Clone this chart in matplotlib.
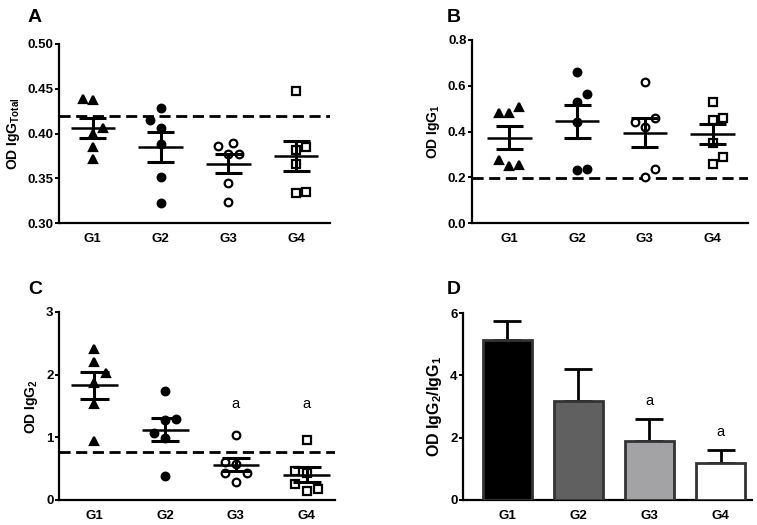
import numpy as np
import matplotlib
matplotlib.use("Agg")
import matplotlib.pyplot as plt

plt.rcParams["font.family"] = ["Liberation Sans", "DejaVu Sans"]
plt.rcParams["font.weight"] = "bold"
plt.rcParams["mathtext.fontset"] = "custom"
plt.rcParams["mathtext.rm"] = "Liberation Sans:bold"
plt.rcParams["mathtext.bf"] = "Liberation Sans:bold"

# =========================================
# Data
# =========================================

groups = ["G1", "G2", "G3", "G4"]

# panel A : OD IgG total
igg_total = [
    [0.438, 0.437, 0.406, 0.400, 0.385, 0.371],
    [0.415, 0.428, 0.406, 0.388, 0.351, 0.322],
    [0.386, 0.389, 0.377, 0.377, 0.345, 0.323],
    [0.448, 0.382, 0.385, 0.366, 0.333, 0.335],
]
igg_total_cutoff = 0.419

# panel B : OD IgG1
igg1 = [
    [0.479, 0.479, 0.508, 0.274, 0.248, 0.253],
    [0.661, 0.566, 0.530, 0.441, 0.231, 0.234],
    [0.617, 0.442, 0.457, 0.420, 0.238, 0.199],
    [0.530, 0.450, 0.457, 0.350, 0.289, 0.260],
]
igg1_cutoff = 0.197

# panel C : OD IgG2
igg2 = [
    [2.408, 2.195, 2.025, 1.875, 1.534, 0.943],
    [1.747, 1.289, 1.066, 1.270, 0.986, 0.384],
    [1.039, 0.600, 0.580, 0.430, 0.430, 0.293],
    [0.960, 0.469, 0.426, 0.256, 0.149, 0.181],
]
igg2_cutoff = 0.773
igg2_sig = ["", "", "a", "a"]

# panel D : IgG2 / IgG1 ratio
ratio_mean = [5.14, 3.19, 1.88, 1.18]
ratio_sem = [0.60, 1.01, 0.71, 0.43]
ratio_sig = ["", "", "a", "a"]
bar_colors = ["#000000", "#606060", "#a3a3a6", "#ffffff"]

# horizontal jitter slot of every point
slots_a = [[-1, 0, 1, 0, 0, 0], [-1, 0, 0, 0, 0, 0], [-1, 0.5, 0, 1, 0, 0], [0, 0, 1, 0, 0, 1]]
slots_b = [[-1, 0, 1, -1, 0, 1], [0, 1, 0, 0, 0, 1], [0, -1, 1, 0, 1, 0], [0, 0, 1, 0, 1, 0]]
slots_c = [[0, 0, 1, 0, 0, 0], [0, 1, -1, 0, 0, 0], [0, -1, 0, 1, -1, 0], [0, -1, 0, -1, 0, 1]]

markers = [
    dict(marker="^", mfc="black", mec="black", ms=5.2),
    dict(marker="o", mfc="black", mec="black", ms=5.5),
    dict(marker="o", mfc="white", mec="black", ms=5.5),
    dict(marker="s", mfc="white", mec="black", ms=5.2),
]


# =========================================
# Helpers
# =========================================

W, H = 757, 525


def px_axes(fig, left, top, right, bottom):
    return fig.add_axes([left / W, 1 - bottom / H, (right - left) / W, (bottom - top) / H])


def style(ax):
    for s in ["top", "right"]:
        ax.spines[s].set_visible(False)
    for s in ["left", "bottom"]:
        ax.spines[s].set_linewidth(1.6)
    ax.tick_params(axis="y", direction="out", length=3, width=1.4, labelsize=9.5, pad=1)
    ax.tick_params(axis="x", length=0, labelsize=9.5, pad=7)
    for lab in ax.get_xticklabels() + ax.get_yticklabels():
        lab.set_fontweight("bold")


def scatter_panel(ax, data, slots, cutoff, jit):
    x = np.arange(1, 5)
    for i, vals in enumerate(data):
        vals = np.array(vals)
        xs = x[i] + np.array(slots[i]) * jit
        m = markers[i]
        ax.plot(xs, vals, ls="none", marker=m["marker"], mfc=m["mfc"],
                mec=m["mec"], mew=1.6, ms=m["ms"], zorder=3)
        mean = vals.mean()
        sem = vals.std(ddof=1) / np.sqrt(len(vals))
        ax.hlines(mean, x[i] - 0.33, x[i] + 0.33, color="black", lw=1.8, zorder=4)
        ax.hlines([mean - sem, mean + sem], x[i] - 0.2, x[i] + 0.2, color="black", lw=2.2, zorder=4)
        ax.vlines(x[i], mean - sem, mean + sem, color="black", lw=2.2, zorder=4)
    ax.axhline(cutoff, color="black", lw=2, ls=(0, (4, 2)), zorder=2)
    ax.set_xticks(x)
    ax.set_xticklabels(groups)


# =========================================
# Figure
# =========================================

fig = plt.figure(figsize=(W / 100, H / 100), dpi=100)

# A
ax_a = px_axes(fig, 59, 44, 330, 223)
scatter_panel(ax_a, igg_total, slots_a, igg_total_cutoff, 0.15)
ax_a.set_xlim(0.5, 4.5)
ax_a.set_ylim(0.30, 0.50)
ax_a.set_yticks([0.30, 0.35, 0.40, 0.45, 0.50])
ax_a.set_yticklabels(["0.30", "0.35", "0.40", "0.45", "0.50"])
ax_a.set_ylabel(r"OD IgG$_{\mathrm{Total}}$", fontsize=10, fontweight="bold", labelpad=4)
style(ax_a)

# B
ax_b = px_axes(fig, 472, 40, 748, 223)
scatter_panel(ax_b, igg1, slots_b, igg1_cutoff, 0.15)
ax_b.set_xlim(0.45, 4.52)
ax_b.set_ylim(0.0, 0.8)
ax_b.set_yticks([0.0, 0.2, 0.4, 0.6, 0.8])
ax_b.set_ylabel(r"OD IgG$_{1}$", fontsize=10, fontweight="bold", labelpad=4)
style(ax_b)

# C
ax_c = px_axes(fig, 59, 312, 335, 500)
scatter_panel(ax_c, igg2, slots_c, igg2_cutoff, 0.16)
ax_c.set_xlim(0.5, 4.4)
ax_c.set_ylim(0, 3)
ax_c.set_yticks([0, 1, 2, 3])
ax_c.set_ylabel(r"OD IgG$_{2}$", fontsize=10, fontweight="bold", labelpad=4)
for i, s in enumerate(igg2_sig):
    if s:
        ax_c.text(i + 1, 1.42, s, ha="center", va="bottom", fontsize=10.5, fontweight="normal")
style(ax_c)

# D
ax_d = px_axes(fig, 463, 313, 752, 500)
xd = np.arange(1, 5)
ax_d.bar(xd, ratio_mean, width=0.69, color=bar_colors, edgecolor="#333333", linewidth=2, zorder=3)
ax_d.errorbar(xd, ratio_mean, yerr=[np.zeros(4), ratio_sem], fmt="none",
              ecolor="black", elinewidth=2, capsize=10, capthick=2, zorder=2)
for i, s in enumerate(ratio_sig):
    if s:
        ax_d.text(xd[i], ratio_mean[i] + ratio_sem[i] + 0.35, s, ha="center", va="bottom",
                  fontsize=10.5, fontweight="normal")
ax_d.set_xlim(0.38, 4.44)
ax_d.set_ylim(0, 6)
ax_d.set_yticks([0, 2, 4, 6])
ax_d.set_xticks(xd)
ax_d.set_xticklabels(groups)
ax_d.set_ylabel(r"OD IgG$_{2}$/IgG$_{1}$", fontsize=11.5, fontweight="bold", labelpad=4)
style(ax_d)

# panel letters
for lab, (px, py) in zip("ABCD", [(28, 17), (447, 17), (28, 290), (447, 290)]):
    fig.text(px / W, 1 - py / H, lab, fontsize=14, fontweight="bold", va="center", ha="left")

plt.savefig("out.png", dpi=100)
